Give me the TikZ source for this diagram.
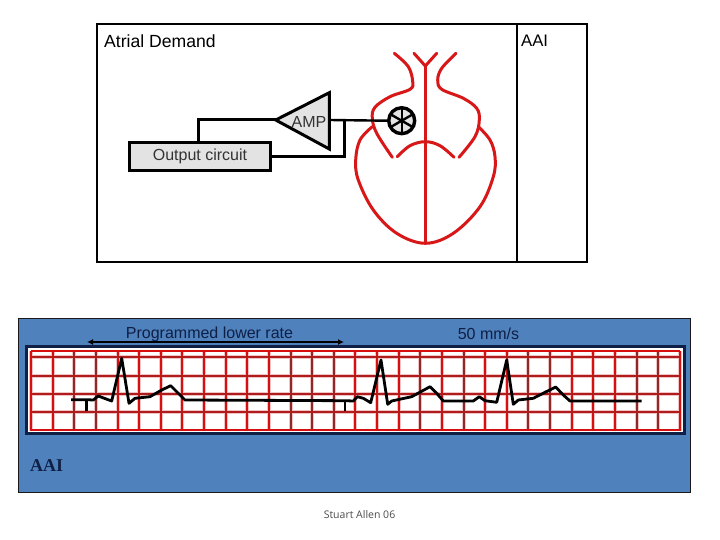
\documentclass[tikz,border=0pt]{standalone}
\usepackage{fontspec}
\setmainfont{Liberation Sans}
\newfontfamily\serifaai{Liberation Serif}
\newfontfamily\credit{Open Sans}
\usetikzlibrary{arrows.meta}
\definecolor{bandblue}{HTML}{4F81BD}
\definecolor{gridred}{HTML}{D80F0F}
\definecolor{griddark}{HTML}{8C2A2A}
\definecolor{gridmid}{HTML}{B01C1C}
\definecolor{gridglow}{HTML}{F0C4C4}
\definecolor{heartred}{HTML}{D81818}
\definecolor{boxgray}{HTML}{E3E3E3}
\definecolor{navytext}{HTML}{0F1F45}
\tikzset{
  frame/.style={draw=black,line width=2pt},
  wire/.style={draw=black,line width=3pt},
  thinwire/.style={draw=black,line width=2.4pt},
  heart/.style={draw=heartred,line width=3pt,line cap=round,line join=round},
  gridglow/.style={draw=gridglow,line width=4pt},
  gridline/.style={draw=gridred,line width=2pt},
  griddk/.style={draw=griddark,line width=2pt},
  gridh/.style={draw=gridmid,line width=2pt},
  ecg/.style={draw=black,line width=2.8pt,line join=round},
  label/.style={inner sep=0pt,font=\fontsize{16}{18}\selectfont},
}
\begin{document}
\begin{tikzpicture}[x=1pt,y=-1pt]
\useasboundingbox[fill=white] (0,0) rectangle (720,540);
% top panel
\draw[frame] (96.5,24.5) rectangle (587,262);
\draw[frame] (516.5,24.5) -- (516.5,262);
\node[label,anchor=west,font=\fontsize{17.6}{20}\selectfont] (title) at (104,41) {Atrial Demand};
\node[label,anchor=west,font=\fontsize{16.7}{20}\selectfont] (mode) at (521,41) {AAI};
% heart
\draw[heart] plot[smooth,tension=0.6] coordinates {(394.3,53.3) (408.3,66.7) (412.7,81.7) (410,89.3) (390,96.7) (375,107.3) (372.3,118.3) (376.7,133.3) (392.3,157.3)};
\draw[heart] plot[smooth,tension=0.6] coordinates {(456,53.3) (441.7,68.3) (437.7,80) (441.7,89.3) (463.3,98.3) (476.7,108.3) (479.3,120) (475,136.7) (459,157.3)};
\draw[heart] (414,53.3) -- (425.3,66) -- (436.7,53.3);
\draw[heart] (425.3,66) -- (425.3,243.3);
\draw[heart] plot[smooth,tension=0.6] coordinates {(397.3,156.7) (410,145.7) (425.3,141.7) (440,145.7) (454,157.3)};
\draw[heart] plot[smooth,tension=0.6] coordinates {(372.3,126.7) (360,140) (355.7,160) (358.3,180) (373.3,210) (396.7,233.3) (425.3,243.3) (453.3,233.3) (480,206.7) (493.3,176.7) (495,156.7) (490,140) (478.3,126.7)};
% amplifier
\coordinate (ampapex) at (275.7,120);
\coordinate (ampout) at (329.3,120);
\coordinate (branch) at (344,120);
\filldraw[fill=boxgray,draw=black,line width=3pt,line join=miter] (ampapex) -- (329.3,92.7) -- (329.3,149) -- cycle;
\node[label,text=black!80] (amp) at (309,122) {AMP};
\node[draw=black,line width=3pt,fill=boxgray,minimum width=141pt,minimum height=28pt,inner sep=0pt,text=black!80,font=\fontsize{16}{18}\selectfont] (output) at (200,156.3) {Output circuit};
\node[circle,draw=black,line width=3.4pt,fill=boxgray,minimum size=26pt,inner sep=0pt] (lead) at (401.7,120.7) {};
\draw[thinwire] (lead.center) ++(0,-13) -- ++(0,26);
\draw[thinwire] (lead.center) ++(-11.3,-6.5) -- ++(22.6,13);
\draw[thinwire] (lead.center) ++(-11.3,6.5) -- ++(22.6,-13);
\draw[thinwire] (ampout) -- (lead.west);
\draw[wire] (ampapex) -- (198.3,120) -- (output.north -| 198.3,120);
\draw[wire] (branch) -- (344,156.3) -- (output.east |- 344,156.3);
% lower band
\draw[draw=black!90,line width=1pt,fill=bandblue] (18.5,318.5) rectangle (690.5,492.5);
\draw[draw=navytext,line width=2.4pt,fill=white] (26.5,346.5) rectangle (684.5,433.5);
\foreach \k in {0,...,30}{
  \draw[gridglow] ({31+21.63*\k},351) -- ({31+21.63*\k},430.5);
}
\foreach \y in {357.3,376,394,412.3}{
  \draw[gridglow] (31,\y) -- (680,\y);
}
\foreach \k/\c in {0/gridline,1/gridline,2/griddk,3/griddk,4/gridline,5/gridline,6/gridline,7/gridline,8/gridline,9/gridline,10/gridline,11/gridline,12/griddk,13/griddk,14/griddk,15/gridline,16/gridline,17/gridline,18/griddk,19/gridline,20/griddk,21/gridline,22/gridline,23/griddk,24/griddk,25/gridline,26/gridline,27/gridline,28/griddk,29/griddk,30/gridline}{
  \draw[\c] ({31+21.63*\k},351) -- ({31+21.63*\k},430.5);
}
\foreach \y in {357.3,376,394,412.3}{
  \draw[gridh] (31,\y) -- (680,\y);
}
\draw[gridline] (31,351) -- (680,351);
\draw[gridline] (31,430.3) -- (680,430.3);
% ECG
\draw[ecg] (71,399.7) -- (86.7,399.7) -- (93.3,400) -- (98.3,396) -- (104.3,398.3) -- (111.7,401) -- (121.7,358.3) -- (129,403.3) -- (135,398.3) -- (150,396.7) -- (161.7,390) -- (170.7,385.7) -- (178.3,393.3) -- (185,400) -- (345,400.7) -- (353.3,401) -- (357.3,396.7) -- (363.3,398.3) -- (370.7,402.7) -- (381,360) -- (387.7,404.3) -- (391.7,401) -- (411.7,396.7) -- (430,386.7) -- (436.7,393.3) -- (443.3,401) -- (473.3,401) -- (479.3,396.7) -- (485,400.7) -- (496.7,402.3) -- (506.7,360) -- (513.3,404.3) -- (518.3,400) -- (533.3,398.3) -- (545,392.3) -- (555.7,387) -- (563.3,395) -- (570,401) -- (641.7,401);
\draw[ecg] (86.7,399.7) -- (86.7,411);
\draw[ecg] (345,400.7) -- (345,411);
% labels
\node[label,text=navytext] (rate) at (209.5,334) {Programmed lower rate};
\node[label,text=navytext] (speed) at (488.5,334) {50 mm/s};
\coordinate (arrowL) at (87,342);
\coordinate (arrowR) at (344,342);
\draw[draw=black,line width=1.8pt,{Latex[length=6pt,width=6pt]}-{Latex[length=6pt,width=6pt]}] (arrowL) -- (arrowR);
\node[inner sep=0pt,anchor=west,text=navytext,font=\serifaai\bfseries\fontsize{18}{20}\selectfont] (mode2) at (30,465.5) {AAI};
\node[inner sep=0pt,text=black!70,font=\credit\fontsize{10.5}{12}\selectfont] (credit) at (359.5,515) {Stuart Allen 06};
\end{tikzpicture}
\end{document}
